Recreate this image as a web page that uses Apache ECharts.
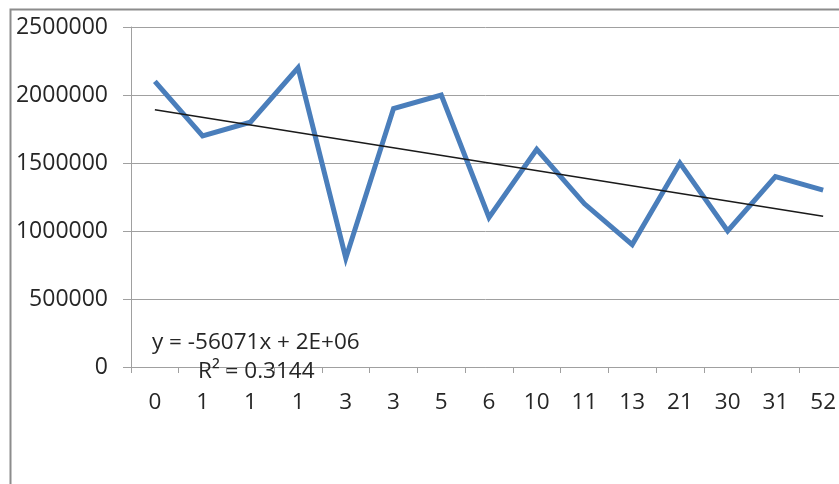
<!DOCTYPE html>
<html>
<head>
<meta charset="utf-8">
<script src="https://cdn.jsdelivr.net/npm/echarts@6/dist/echarts.min.js"></script>
<style>
  html, body { margin: 0; padding: 0; background: #fff; }
  #chart { width: 839px; height: 484px; }
</style>
</head>
<body>
<div id="chart"></div>
<script>
// Category labels along the horizontal axis
const categories = ['0', '1', '1', '1', '3', '3', '5', '6', '10', '11', '13', '21', '30', '31', '52'];
// Observed values
const values = [2100000, 1700000, 1800000, 2200000, 800000, 1900000, 2000000, 1100000,
                1600000, 1200000, 900000, 1500000, 1000000, 1400000, 1300000];
// Linear trendline end points (first and last category)
const trendEnds = [1892000, 1108000];
// Vertical axis ticks
const yTicks = [0, 500000, 1000000, 1500000, 2000000, 2500000];
// Trendline annotations
const equationText = 'y = -56071x + 2E+06';
const rSquaredText = 'R\u00b2 = 0.3144';

const trendData = categories.map((_, i) =>
  i === 0 ? trendEnds[0] : (i === categories.length - 1 ? trendEnds[1] : null));

const font = '"Open Sans", "Liberation Sans", sans-serif';
const gray = '#a0a0a0';
const textColor = '#262626';

const chart = echarts.init(document.getElementById('chart'), null, { renderer: 'canvas' });
chart.setOption({
  animation: false,
  backgroundColor: '#ffffff',
  grid: { left: 131, right: -8, top: 27, bottom: 117, containLabel: false, outerBoundsMode: 'none' },
  xAxis: {
    type: 'category',
    data: categories,
    boundaryGap: true,
    axisLine: { lineStyle: { color: gray, width: 1 } },
    axisTick: { show: true, length: 6, lineStyle: { color: gray } },
    axisLabel: { fontFamily: font, fontSize: 22.5, color: textColor, margin: 24 },
    splitLine: { show: false }
  },
  yAxis: {
    type: 'value',
    min: yTicks[0],
    max: yTicks[yTicks.length - 1],
    interval: yTicks[1] - yTicks[0],
    axisLine: { show: true, lineStyle: { color: gray, width: 1 } },
    axisTick: { show: true, inside: false, length: 8, lineStyle: { color: gray } },
    axisLabel: {
      fontFamily: font, fontSize: 23, color: textColor, margin: 23,
      formatter: v => String(v)
    },
    splitLine: { show: true, lineStyle: { color: gray, width: 1 } }
  },
  series: [
    {
      type: 'line',
      data: values,
      symbol: 'none',
      lineStyle: { color: '#4a7ebb', width: 5, join: 'miter' },
      z: 3
    },
    {
      type: 'line',
      data: trendData,
      connectNulls: true,
      symbol: 'none',
      lineStyle: { color: '#1a1a1a', width: 1.5 },
      z: 4
    }
  ],
  graphic: [
    {
      type: 'rect',
      shape: { x: 10.5, y: 9.5, width: 900, height: 520 },
      style: { fill: 'none', stroke: '#8c8c8c', lineWidth: 2 },
      silent: true
    },
    {
      type: 'text',
      x: 152, y: 343,
      style: { text: equationText, font: '22.5px ' + font, fill: textColor, verticalAlign: 'middle' },
      z: 10
    },
    {
      type: 'text',
      x: 198, y: 372,
      style: { text: rSquaredText, font: '22.5px ' + font, fill: textColor, verticalAlign: 'middle' },
      z: 10
    }
  ]
});
</script>
</body>
</html>
